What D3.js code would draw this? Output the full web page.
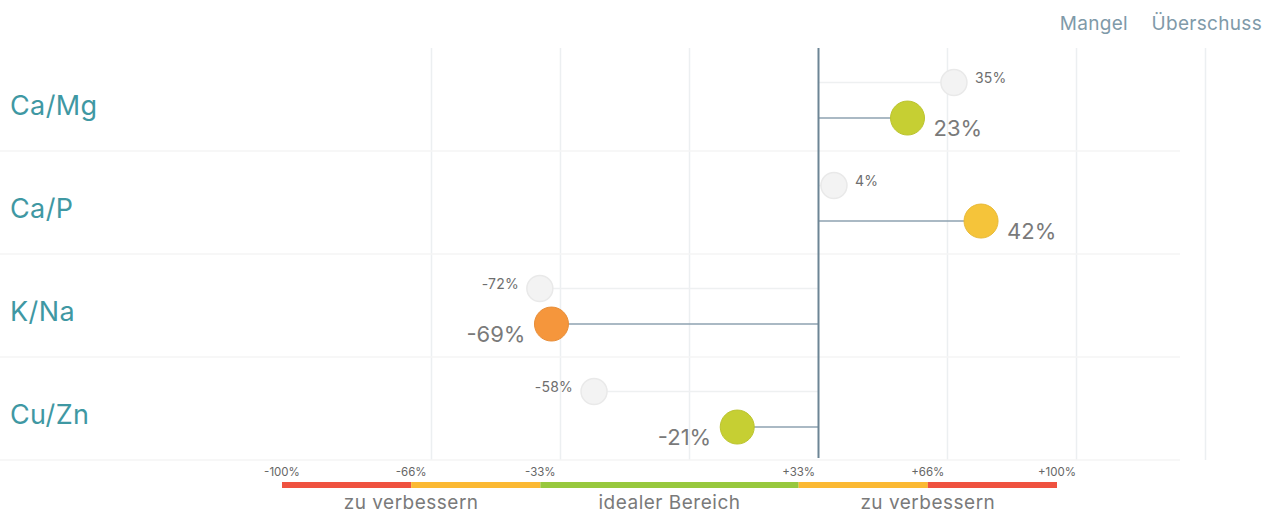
<!DOCTYPE html>
<html>
<head>
<meta charset="utf-8">
<script src="https://cdn.jsdelivr.net/npm/d3@7"></script>
<style>
  body { margin: 0; background: #fff; }
  svg text { font-family: "Inter", "Open Sans", sans-serif; }
</style>
</head>
<body>
<div id="chart"></div>
<script>

// data
var categories = [ "Ca/Mg", "Ca/P", "K/Na", "Cu/Zn" ];
var currentValues = [ 23, 42, -69, -21 ];
var previousValues = [ 35, 4, -72, -58 ];
var dotColors = [ "#c6cf33", "#f5c43a", "#f5963c", "#c6cf33" ];

var gridValues = [ -100, -66.67, -33.33, 0, 33.33, 66.67, 100 ];
var legendStops = [ -100, -66.67, -33.33, 33.33, 66.67, 100 ];
var legendTicks = [ "-100%", "-66%", "-33%", "+33%", "+66%", "+100%" ];
var legendColors = [ "#ef5240", "#fbb933", "#97c83d", "#fbb933", "#ef5240" ];
var legendZones = [ "zu verbessern", "idealer Bereich", "zu verbessern" ];
var legendZoneAt = [ -66.67, 0, 66.67 ];
var seriesNames = [ "Mangel", "Überschuss" ];

var W = 1272, H = 516;
var svg = d3.select( '#chart' ).append( 'svg' ).attr( 'width', W ).attr( 'height', H );

var x = d3.scaleLinear().domain( [ -100, 100 ] ).range( [ 431.5, 1205.5 ] );
var y = d3.scaleBand().domain( categories ).range( [ 48, 460 ] );
var bw = y.bandwidth();
var legendX = d3.scaleLinear().domain( [ -100, 100 ] ).range( [ 282, 1057 ] );

// vertical grid
svg.append( 'g' ).selectAll( 'line' )
    .data( gridValues.filter( function( d ) { return d !== 0; } ) )
    .enter().append( 'line' )
    .attr( 'x1', function( d ) { return x( d ); } )
    .attr( 'x2', function( d ) { return x( d ); } )
    .attr( 'y1', 48 ).attr( 'y2', 460 )
    .style( 'stroke', '#eceff1' ).style( 'stroke-width', 1.5 );

// row separators
svg.append( 'g' ).selectAll( 'line' )
    .data( categories )
    .enter().append( 'line' )
    .attr( 'x1', 0 ).attr( 'x2', 1180 )
    .attr( 'y1', function( d ) { return y( d ) + bw; } )
    .attr( 'y2', function( d ) { return y( d ) + bw; } )
    .style( 'stroke', '#f4f4f4' ).style( 'stroke-width', 1.5 );

// category labels
svg.append( 'g' ).selectAll( 'text' )
    .data( categories )
    .enter().append( 'text' )
    .attr( 'x', 10 )
    .attr( 'y', function( d ) { return y( d ) + bw / 2 + 8; } )
    .attr( 'dominant-baseline', 'middle' )
    .style( 'font-size', '27px' )
    .style( 'letter-spacing', '0.4px' )
    .style( 'fill', '#3f98a3' )
    .text( function( d ) { return d; } );

var ghostY = function( i ) { return y( categories[i] ) + bw * 0.335; };
var mainY = function( i ) { return y( categories[i] ) + bw * 0.68; };

// previous (ghost) stems + dots
var ghost = svg.append( 'g' );
ghost.selectAll( 'line' )
    .data( previousValues )
    .enter().append( 'line' )
    .attr( 'x1', x( 0 ) ).attr( 'x2', function( d ) { return x( d ); } )
    .attr( 'y1', function( d, i ) { return ghostY( i ); } )
    .attr( 'y2', function( d, i ) { return ghostY( i ); } )
    .style( 'stroke', '#eef0f1' ).style( 'stroke-width', 1.5 );
ghost.selectAll( 'circle' )
    .data( previousValues )
    .enter().append( 'circle' )
    .attr( 'cx', function( d ) { return x( d ); } )
    .attr( 'cy', function( d, i ) { return ghostY( i ); } )
    .attr( 'r', 13 )
    .style( 'fill', '#f3f3f3' ).style( 'stroke', '#e9e9e9' ).style( 'stroke-width', 1.5 );
ghost.selectAll( 'text' )
    .data( previousValues )
    .enter().append( 'text' )
    .attr( 'x', function( d ) { return d >= 0 ? x( d ) + 21 : x( d ) - 21; } )
    .attr( 'y', function( d, i ) { return ghostY( i ) - 3; } )
    .attr( 'text-anchor', function( d ) { return d >= 0 ? 'start' : 'end'; } )
    .attr( 'dominant-baseline', 'middle' )
    .style( 'font-size', '14px' )
    .style( 'letter-spacing', '0.2px' )
    .style( 'fill', '#6e6e6e' )
    .text( function( d ) { return d + '%'; } );

// current stems
var main = svg.append( 'g' );
main.selectAll( 'line' )
    .data( currentValues )
    .enter().append( 'line' )
    .attr( 'x1', x( 0 ) ).attr( 'x2', function( d ) { return x( d ); } )
    .attr( 'y1', function( d, i ) { return mainY( i ); } )
    .attr( 'y2', function( d, i ) { return mainY( i ); } )
    .style( 'stroke', '#8ea2b1' ).style( 'stroke-width', 1.5 );

// zero axis
svg.append( 'line' )
    .attr( 'x1', x( 0 ) ).attr( 'x2', x( 0 ) )
    .attr( 'y1', 48 ).attr( 'y2', 458 )
    .style( 'stroke', '#6d8595' ).style( 'stroke-width', 2 );

main.selectAll( 'circle' )
    .data( currentValues )
    .enter().append( 'circle' )
    .attr( 'cx', function( d ) { return x( d ); } )
    .attr( 'cy', function( d, i ) { return mainY( i ); } )
    .attr( 'r', 17 )
    .style( 'fill', function( d, i ) { return dotColors[i]; } )
    .style( 'stroke', function( d, i ) { return d3.color( dotColors[i] ).darker( 0.15 ); } )
    .style( 'stroke-width', 1 );
main.selectAll( 'text' )
    .data( currentValues )
    .enter().append( 'text' )
    .attr( 'x', function( d ) { return d >= 0 ? x( d ) + 26 : x( d ) - 26; } )
    .attr( 'y', function( d, i ) { return mainY( i ) + 12; } )
    .attr( 'text-anchor', function( d ) { return d >= 0 ? 'start' : 'end'; } )
    .attr( 'dominant-baseline', 'middle' )
    .style( 'font-size', '22px' )
    .style( 'fill', '#7a7a7a' )
    .text( function( d ) { return d + '%'; } );

// series legend top right
svg.append( 'text' ).attr( 'x', 1128 ).attr( 'y', 25 )
    .attr( 'text-anchor', 'end' ).attr( 'dominant-baseline', 'middle' )
    .style( 'font-size', '19px' ).style( 'letter-spacing', '0.3px' ).style( 'fill', '#7f9aa9' )
    .text( seriesNames[0] );
svg.append( 'text' ).attr( 'x', 1262 ).attr( 'y', 25 )
    .attr( 'text-anchor', 'end' ).attr( 'dominant-baseline', 'middle' )
    .style( 'font-size', '19px' ).style( 'letter-spacing', '0.3px' ).style( 'fill', '#7f9aa9' )
    .text( seriesNames[1] );

// range legend bar
var leg = svg.append( 'g' );
leg.selectAll( 'rect' )
    .data( legendColors )
    .enter().append( 'rect' )
    .attr( 'x', function( d, i ) { return legendX( legendStops[i] ); } )
    .attr( 'width', function( d, i ) { return legendX( legendStops[i + 1] ) - legendX( legendStops[i] ); } )
    .attr( 'y', 482 ).attr( 'height', 6 )
    .style( 'fill', function( d ) { return d; } );
leg.selectAll( 'text.tick' )
    .data( legendTicks )
    .enter().append( 'text' ).attr( 'class', 'tick' )
    .attr( 'x', function( d, i ) { return legendX( legendStops[i] ); } )
    .attr( 'y', 473 )
    .attr( 'text-anchor', 'middle' ).attr( 'dominant-baseline', 'middle' )
    .style( 'font-size', '11.5px' ).style( 'fill', '#666' )
    .text( function( d ) { return d; } );
leg.selectAll( 'text.zone' )
    .data( legendZones )
    .enter().append( 'text' ).attr( 'class', 'zone' )
    .attr( 'x', function( d, i ) { return legendX( legendZoneAt[i] ); } )
    .attr( 'y', 504 )
    .attr( 'text-anchor', 'middle' ).attr( 'dominant-baseline', 'middle' )
    .style( 'font-size', '19px' ).style( 'letter-spacing', '0.5px' ).style( 'fill', '#7a7a7a' )
    .text( function( d ) { return d; } );

</script>
</body>
</html>
